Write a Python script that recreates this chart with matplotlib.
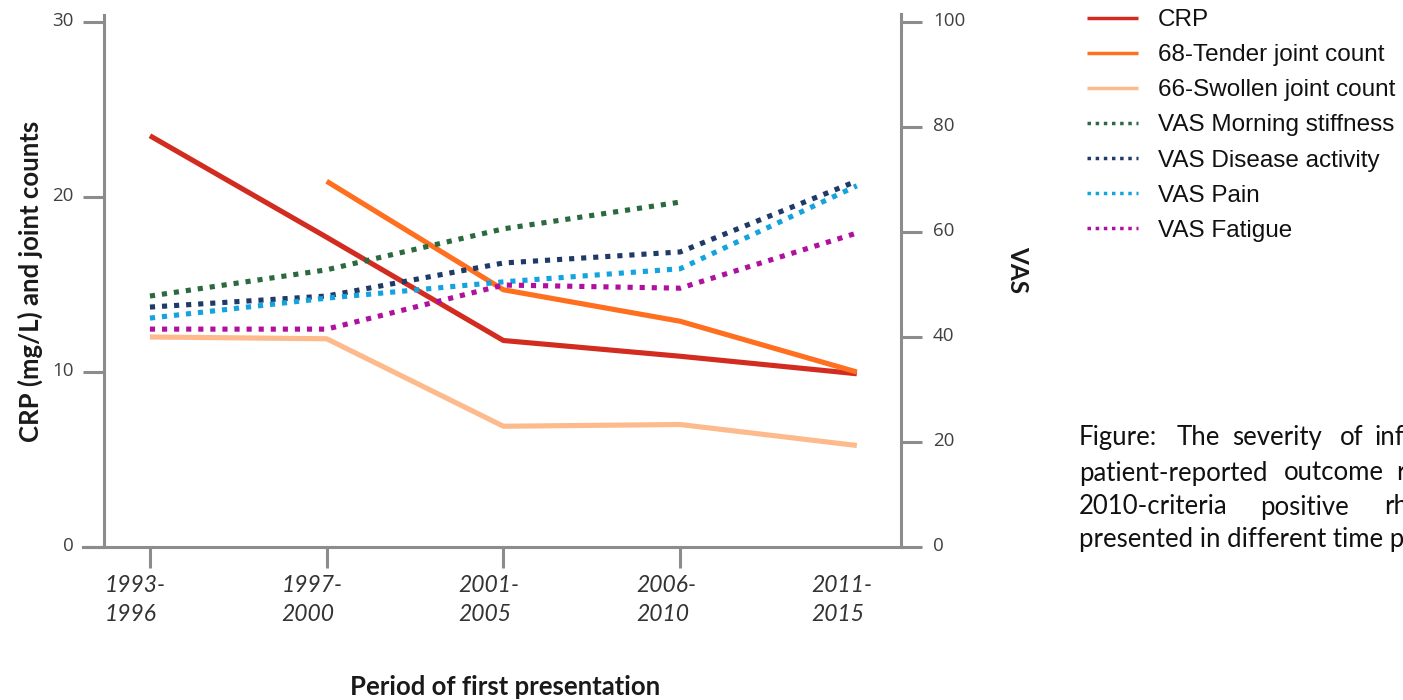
import matplotlib
matplotlib.use("Agg")
import matplotlib.pyplot as plt
import matplotlib.transforms as mtransforms
from matplotlib.lines import Line2D

periods = ["1993-\n1996", "1997-\n2000", "2001-\n2005", "2006-\n2010", "2011-\n2015"]
x = [0, 1, 2, 3, 4]

crp = [23.5, 17.7, 11.8, 10.9, 9.9]
tender = [None, 20.9, 14.7, 12.9, 10.0]
swollen = [12.0, 11.9, 6.9, 7.0, 5.8]

vas_morning = [47.8, 52.8, 60.6, 65.7, None]
vas_disease = [45.7, 47.8, 54.1, 56.2, 69.7]
vas_pain = [43.6, 47.4, 50.5, 53.0, 68.8]
vas_fatigue = [41.5, 41.5, 49.9, 49.3, 59.8]

left_ticks = [0, 10, 20, 30]
right_ticks = [0, 20, 40, 60, 80, 100]

c_crp = "#D22B1F"
c_tender = "#FF6F1F"
c_swollen = "#FDBA8C"
c_morning = "#2B6A3E"
c_disease = "#203A68"
c_pain = "#15A3E0"
c_fatigue = "#B0109F"
axis_grey = "#8C8C8C"
tick_text = "#404040"


def pairs(vals):
    xs = [xi for xi, v in zip(x, vals) if v is not None]
    ys = [v for v in vals if v is not None]
    return xs, ys


fig = plt.figure(figsize=(14.03, 7.0), dpi=100)
W, H = 1403, 700
ax_l, ax_r, ax_b, ax_t = 104, 901, 547, 22
ax = fig.add_axes([ax_l / W, 1 - ax_b / H, (ax_r - ax_l) / W, (ax_b - ax_t) / H])
ax2 = ax.twinx()

lw = 3.7
dot = (0, (1.0, 1.35))

ax.plot(*pairs(crp), color=c_crp, lw=lw, solid_capstyle="butt", zorder=5, label="CRP")
ax.plot(*pairs(tender), color=c_tender, lw=lw, solid_capstyle="butt", zorder=5, label="68-Tender joint count")
ax.plot(*pairs(swollen), color=c_swollen, lw=lw, solid_capstyle="butt", zorder=5, label="66-Swollen joint count")

ax2.plot(*pairs(vas_morning), color=c_morning, lw=lw, ls=dot, dash_capstyle="butt", label="VAS Morning stiffness")
ax2.plot(*pairs(vas_disease), color=c_disease, lw=lw, ls=dot, dash_capstyle="butt", label="VAS Disease activity")
ax2.plot(*pairs(vas_pain), color=c_pain, lw=lw, ls=dot, dash_capstyle="butt", label="VAS Pain")
ax2.plot(*pairs(vas_fatigue), color=c_fatigue, lw=lw, ls=dot, dash_capstyle="butt", label="VAS Fatigue")

ax.set_xlim(-0.26, 4.25)
ax.set_ylim(0, 30)
ax2.set_ylim(0, 100)

for a in (ax, ax2):
    a.patch.set_alpha(0)
    a.spines["top"].set_visible(False)
ax.spines["right"].set_visible(False)
ax2.spines["left"].set_visible(False)
ax2.spines["bottom"].set_visible(False)
for s in ("left", "bottom"):
    ax.spines[s].set_color(axis_grey)
    ax.spines[s].set_linewidth(2.2)
ax2.spines["right"].set_color(axis_grey)
ax2.spines["right"].set_linewidth(2.2)
ax.spines["left"].set_bounds(0, 30.4)
ax2.spines["right"].set_bounds(0, 101.5)

tick_font = {"family": "Open Sans", "size": 13.5}
up = mtransforms.ScaledTranslation(0, 3 / 100, fig.dpi_scale_trans)
ax.set_yticks(left_ticks)
ax.set_yticklabels([str(t) for t in left_ticks], fontdict=tick_font, color=tick_text)
ax.tick_params(axis="y", direction="out", length=15, width=2.2, color=axis_grey, pad=7)
for lbl in ax.get_yticklabels():
    lbl.set_transform(lbl.get_transform() + up)

ax2.set_yticks(right_ticks)
ax2.set_yticklabels([str(t) for t in right_ticks], fontdict=tick_font, color=tick_text)
ax2.tick_params(axis="y", direction="out", length=15, width=2.2, color=axis_grey, pad=8)
for lbl in ax2.get_yticklabels():
    lbl.set_transform(lbl.get_transform() + up)

ax.set_xticks(x)
ax.set_xticklabels(periods, fontdict={"family": "Lato", "style": "italic", "size": 16.5},
                   color="#333333", linespacing=1.5)
ax.tick_params(axis="x", direction="out", length=15, width=2.2, color=axis_grey, pad=5)
xt = ax.xaxis.get_major_ticks()
xt[4].tick1line.set_visible(False)
offset = mtransforms.ScaledTranslation(16 / 100, 0, fig.dpi_scale_trans)
for lbl in ax.get_xticklabels():
    lbl.set_multialignment("left")
    lbl.set_horizontalalignment("right")
    lbl.set_transform(lbl.get_transform() + offset)

# bottom axis extension to the left of the left spine
fig.add_artist(Line2D([83 / W, ax_l / W], [1 - ax_b / H, 1 - ax_b / H], color=axis_grey, lw=2.2))

fig.text(505 / W, 1 - 687 / H, "Period of first presentation", ha="center", va="center",
         family="Lato", weight="bold", size=18.5, color="#1a1a1a")
fig.text(30 / W, 1 - 281 / H, "CRP (mg/L) and joint counts", ha="center", va="center",
         rotation=90, family="Lato", weight="bold", size=18.5, color="#1a1a1a")
fig.text(1018 / W, 1 - 270 / H, "VAS", ha="center", va="center", rotation=-90,
         family="Lato", weight="bold", size=17.5, color="#1a1a1a")

# legend
handles = ax.get_lines() + ax2.get_lines()
leg = fig.legend(handles=handles, labels=[h.get_label() for h in handles],
                 loc="upper left", bbox_to_anchor=(1087 / W, 1 - 9 / H), frameon=False,
                 prop={"family": "Liberation Sans", "size": 17.5}, handlelength=2.1,
                 handletextpad=0.82, labelspacing=0.54, borderpad=0, borderaxespad=0)
for t in leg.get_texts():
    t.set_color("#111111")
for lh in leg.get_lines():
    lh.set_linewidth(2.5)

# caption (justified paragraph, cut at the right edge of the figure)
cap_font = dict(family="Lato", size=18.5, color="#111111", va="center", ha="left")
caption_words = [
    [("Figure:", 1079), ("The", 1177), ("severity", 1232), ("of", 1340), ("inf", 1375)],
    [("patient-reported", 1079), ("outcome", 1284), ("r", 1396)],
    [("2010-criteria", 1079), ("positive", 1260), ("rh", 1384)],
    [("presented in different time p", 1079)],
]
cap_y = [438, 473, 507, 540]
for words, yy in zip(caption_words, cap_y):
    for w, xx in words:
        fig.text(xx / W, 1 - yy / H, w, **cap_font)

fig.savefig("out.png", dpi=100)
